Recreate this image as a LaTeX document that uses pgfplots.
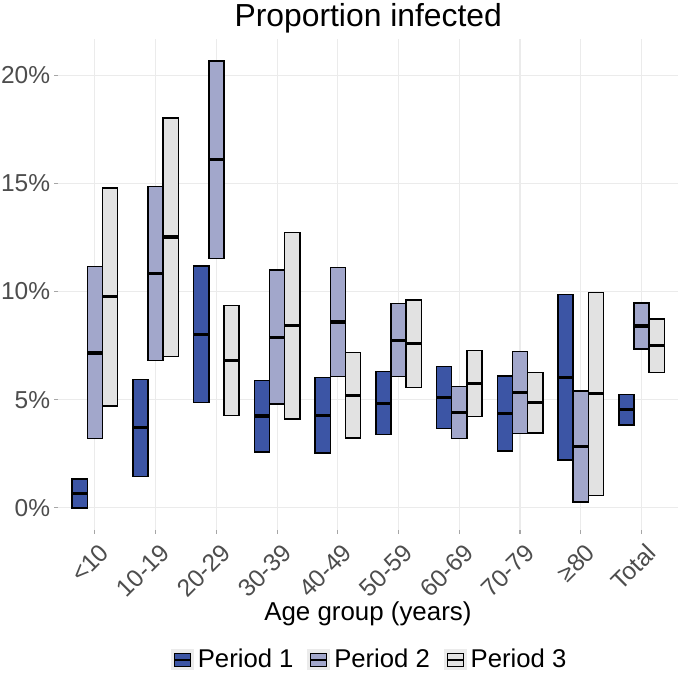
\documentclass[border=0pt]{standalone}
\usepackage{fontspec}
\setmainfont{Liberation Sans}
\usepackage{pgfplots}
\usepackage{pgfplotstable}
\pgfplotsset{compat=1.18}
\usepgfplotslibrary{statistics}

\definecolor{pone}{HTML}{3C55A5}
\definecolor{ptwo}{HTML}{A2A7CB}
\definecolor{pthree}{HTML}{E2E2E2}
\definecolor{gridc}{HTML}{EBEBEB}
\definecolor{tickc}{HTML}{4D4D4D}

% proportion infected (%): lower, estimate, upper, one row per age group
\pgfplotstableread{
lo mid hi
0.00 0.66 1.34
1.46 3.70 5.93
4.88 8.00 11.18
2.59 4.25 5.89
2.54 4.28 6.02
3.40 4.83 6.30
3.66 5.11 6.54
2.63 4.36 6.10
2.20 6.03 9.87
3.83 4.54 5.25
}\periodone

\pgfplotstableread{
lo mid hi
3.20 7.16 11.16
6.82 10.84 14.86
11.53 16.10 20.66
4.80 7.88 10.99
6.08 8.59 11.10
6.08 7.74 9.44
3.21 4.42 5.62
3.43 5.33 7.22
0.26 2.82 5.39
7.34 8.41 9.47
}\periodtwo

\pgfplotstableread{
lo mid hi
4.71 9.76 14.79
7.00 12.52 18.03
4.28 6.82 9.36
4.11 8.42 12.73
3.23 5.20 7.19
5.57 7.60 9.61
4.22 5.74 7.28
3.46 4.88 6.26
0.57 5.27 9.96
6.26 7.50 8.74
}\periodthree

% crossbar from one table row: #1 table, #2 row, #3 colour, #4 offset
\newcommand\crossbar[4]{%
  \pgfplotstablegetelem{#2}{lo}\of#1\edef\cblo{\pgfplotsretval}%
  \pgfplotstablegetelem{#2}{mid}\of#1\edef\cbmid{\pgfplotsretval}%
  \pgfplotstablegetelem{#2}{hi}\of#1\edef\cbhi{\pgfplotsretval}%
  \pgfmathsetmacro\cbpos{#2+#4}%
  \edef\cbcmd{\noexpand\addplot[forget plot, fill=#3, draw=black, line width=0.75bp,
    boxplot prepared={draw position=\cbpos,
      lower whisker=\cblo, lower quartile=\cblo, median=\cbmid,
      upper quartile=\cbhi, upper whisker=\cbhi}] coordinates {};}%
  \cbcmd}

\begin{document}
\begin{tikzpicture}
\path[use as bounding box] (-29.25bp,-71.7bp) rectangle (311bp,265.25bp);
\begin{axis}[
    scale only axis,
    width=310bp, height=245.9bp,
    xmin=-0.6, xmax=9.6,
    ymin=-1.03, ymax=21.69,
    xtick={0,...,9},
    xticklabels={<10,10-19,20-29,30-39,40-49,50-59,60-69,70-79,≥80,Total},
    ytick={0,5,10,15,20},
    yticklabels={0\%,5\%,10\%,15\%,20\%},
    tick pos=left,
    tick align=outside,
    major tick length=2bp,
    tick style={color=gray!70, line width=0.6bp},
    axis line style={draw=none},
    grid=major,
    grid style={draw=gridc, line width=0.6bp},
    ticklabel style={font=\fontsize{12.3}{14}\selectfont, text=tickc},
    xticklabel style={rotate=45, anchor=north east, inner sep=0pt, xshift=-1.5bp, yshift=-4bp},
    yticklabel style={inner sep=0pt, xshift=-2bp},
    title={Proportion infected},
    title style={at={(axis description cs:0.5,1.0014)}, anchor=base, font=\fontsize{16}{18}\selectfont},
    xlabel={Age group (years)},
    xlabel style={at={(axis description cs:0.4995,-0.1838)}, anchor=base, font=\fontsize{13}{15}\selectfont},
    boxplot/draw direction=y,
    boxplot/box extend=0.25,
    boxplot/every whisker/.style={draw=none},
    boxplot/every median/.style={line width=1.6bp},
    legend columns=3,
    legend style={draw=none, fill=none, at={(axis description cs:0.504,-0.264)}, anchor=center,
        font=\fontsize{12.9}{14}\selectfont, inner sep=1bp,
        /tikz/every even column/.append style={column sep=5bp}},
    legend image code/.code={
        \fill[gridc] (0bp,-5bp) rectangle (11bp,5bp);
        \draw[#1, line width=0.6bp] (1.5bp,-3.2bp) rectangle (9.5bp,3.2bp);
        \draw[black, line width=1.2bp] (1.5bp,0bp) -- (9.5bp,0bp);
    },
]
\pgfplotsinvokeforeach{0,...,9}{
  \crossbar{\periodone}{#1}{pone}{-0.25}
  \crossbar{\periodtwo}{#1}{ptwo}{0}
  \crossbar{\periodthree}{#1}{pthree}{0.25}
}
\addlegendimage{fill=pone, draw=black}
\addlegendentry{Period 1}
\addlegendimage{fill=ptwo, draw=black}
\addlegendentry{Period 2}
\addlegendimage{fill=pthree, draw=black}
\addlegendentry{Period 3}
\end{axis}
\end{tikzpicture}
\end{document}
